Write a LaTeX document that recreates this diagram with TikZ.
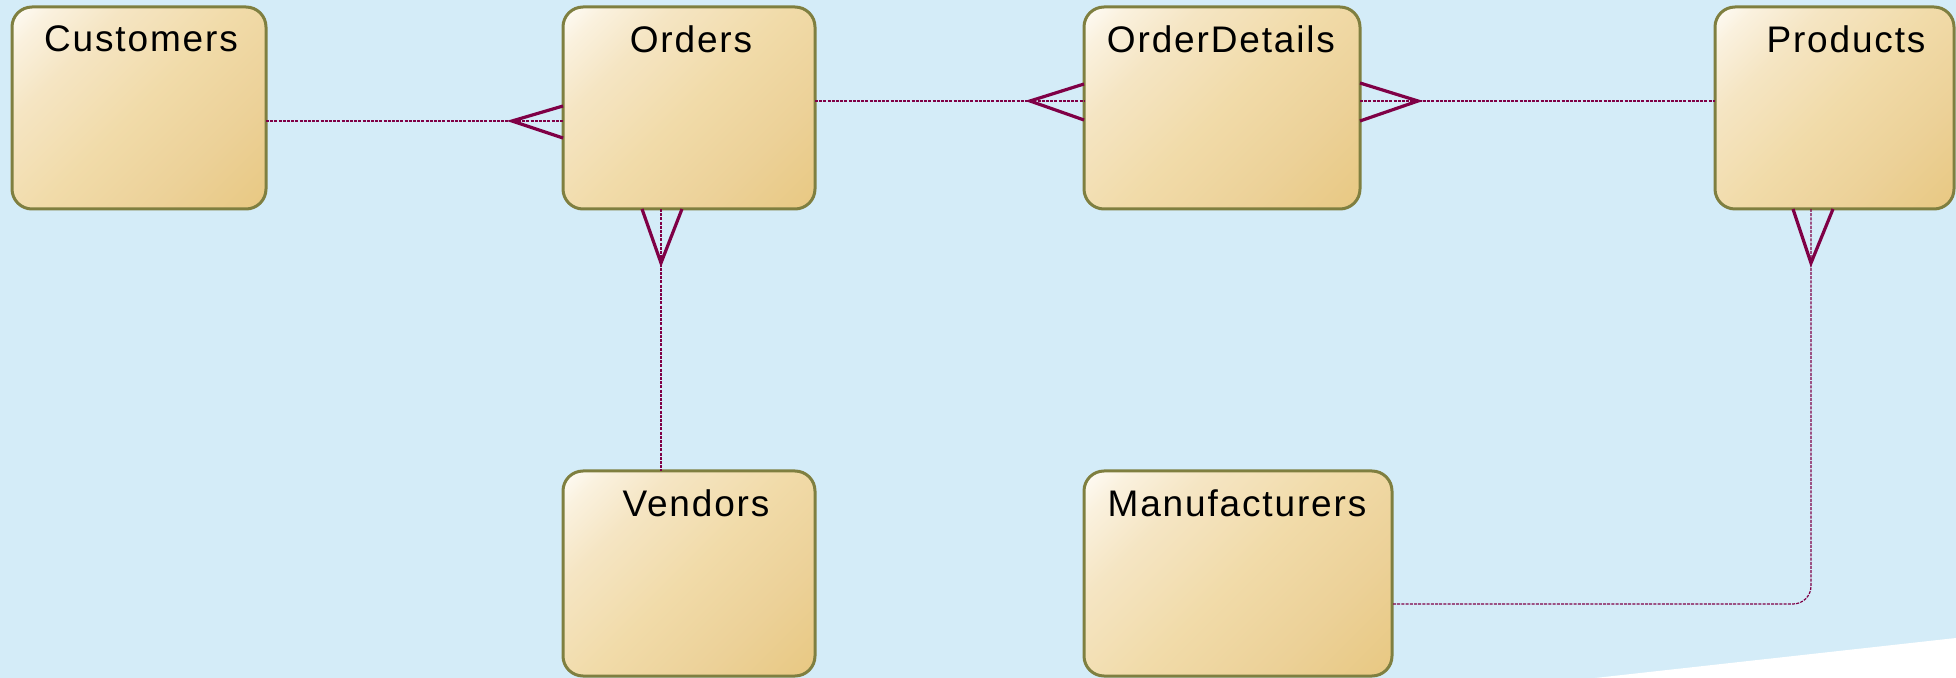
\documentclass[tikz,border=0pt]{standalone}
\usepackage{fontspec}
\setmainfont{Liberation Sans}
\newfontfamily\titlefont[LetterSpace=5]{Liberation Sans}
\usetikzlibrary{calc}

\definecolor{bg}{HTML}{D4ECF8}
\definecolor{rim}{HTML}{7F7F40}
\definecolor{cream}{HTML}{FFFDF9}
\definecolor{ivory}{HTML}{FAF1DE}
\definecolor{paletan}{HTML}{F5E5C3}
\definecolor{sand}{HTML}{F1DBA9}
\definecolor{wheat}{HTML}{ECD198}
\definecolor{gold}{HTML}{E8C882}
\definecolor{relc}{HTML}{7F0046}

% diagonal fill of the entity boxes (corners sit at 15bp and 85bp once rotated)
\pgfdeclareverticalshading{entityfill}{100bp}{%
  color(0bp)=(gold); color(15bp)=(gold); color(32bp)=(wheat);
  color(50bp)=(sand); color(68bp)=(paletan); color(79bp)=(ivory);
  color(86bp)=(cream); color(100bp)=(cream)}

\tikzset{
  entity/.style={draw=rim, line width=1.5pt, rounded corners=10pt,
    inner sep=0pt, outer sep=0pt, shading=entityfill, shading angle=45},
  title/.style={font=\titlefont\fontsize{18.5}{22}\selectfont, inner sep=0pt, text=black},
  link/.style={draw=relc, line width=0.6pt, dash pattern=on 1.5pt off 0.6pt},
  crow/.style={draw=relc, line width=1.6pt, line join=miter, line cap=butt},
}

\begin{document}
\begin{tikzpicture}[x=0.5pt, y=-0.5pt]
  % canvas
  \fill[bg] (0,0) rectangle (1956,678);
  \useasboundingbox (0,0) rectangle (1956,678);
  \fill[white] (1595,678) -- (1956,638) -- (1956,678) -- cycle;

  % entities
  \node[entity, minimum width=127pt, minimum height=101pt] (customers) at (139,108) {};
  \node[entity, minimum width=126pt, minimum height=101pt] (orders) at (689,108) {};
  \node[entity, minimum width=138pt, minimum height=101pt] (orderdetails) at (1222,108) {};
  \node[entity, minimum width=119.5pt, minimum height=101pt] (products) at (1834.5,108) {};
  \node[entity, minimum width=126pt, minimum height=102.5pt] (vendors) at (689,573.5) {};
  \node[entity, minimum width=154pt, minimum height=102.5pt] (manufacturers) at (1238,573.5) {};

  % entity titles
  \node[title] (customers-t) at (141,39) {Customers};
  \node[title] (orders-t) at (691,39) {Orders};
  \node[title] (orderdetails-t) at (1221,39) {OrderDetails};
  \node[title] (products-t) at (1846,39) {Products};
  \node[title] (vendors-t) at (696,503) {Vendors};
  \node[title] (manufacturers-t) at (1237,503) {Manufacturers};

  % Customers -< Orders
  \draw[link] ($(customers.east)+(0,13)$) -- ($(orders.west)+(0,13)$);
  \draw[crow] ($(orders.west)+(0,-2)$) -- ($(orders.west)+(-51,13)$) -- ($(orders.west)+(0,30)$);

  % Orders -< OrderDetails
  \draw[link] ($(orders.east)+(0,-7)$) -- ($(orderdetails.west)+(0,-7)$);
  \draw[crow] ($(orderdetails.west)+(0,-24)$) -- ($(orderdetails.west)+(-54,-7)$) -- ($(orderdetails.west)+(0,12)$);

  % OrderDetails >- Products
  \draw[link] ($(orderdetails.east)+(0,-7)$) -- ($(products.west)+(0,-7)$);
  \draw[crow] ($(orderdetails.east)+(0,-25)$) -- ($(orderdetails.east)+(58,-7)$) -- ($(orderdetails.east)+(0,13)$);

  % Vendors -< Orders
  \draw[link] ($(orders.south)+(-28,0)$) -- ($(vendors.north)+(-28,0)$);
  \draw[crow] ($(orders.south)+(-47,0)$) -- ($(orders.south)+(-28,54)$) -- ($(orders.south)+(-7,0)$);

  % Manufacturers -< Products
  \draw[link, rounded corners=9pt] ($(products.south)+(-23.5,0)$) |- ($(manufacturers.east)+(0,30.5)$);
  \draw[crow] ($(products.south)+(-41.5,0)$) -- ($(products.south)+(-23.5,54)$) -- ($(products.south)+(-1.5,0)$);
\end{tikzpicture}
\end{document}
